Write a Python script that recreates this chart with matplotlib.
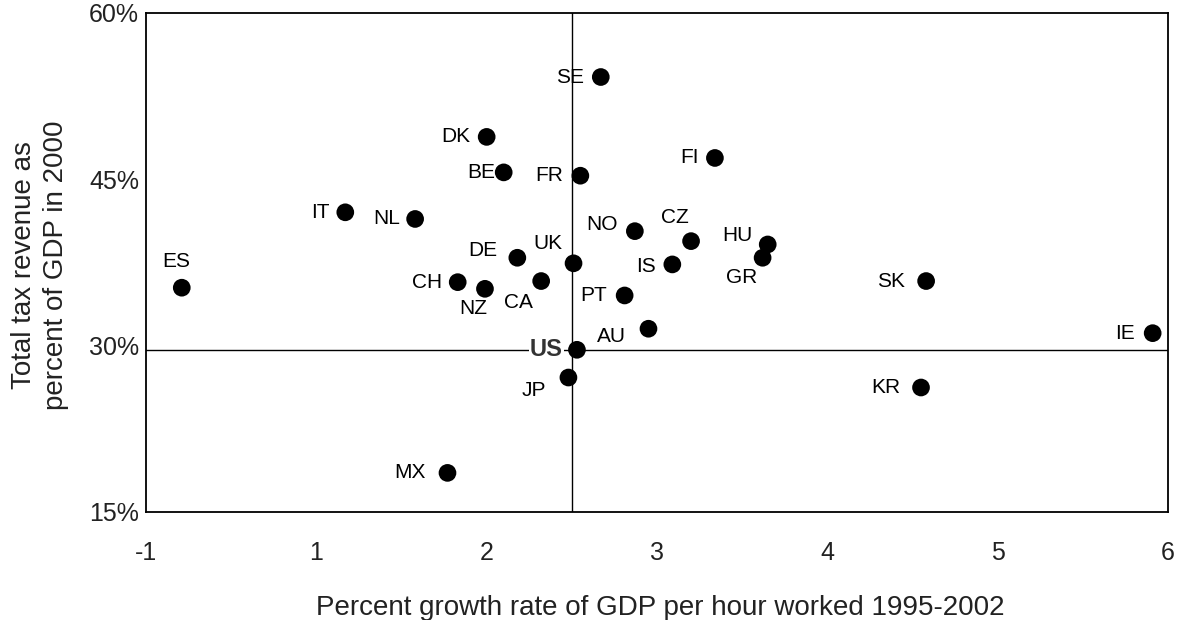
import matplotlib
matplotlib.use("Agg")
import matplotlib.pyplot as plt

plt.rcParams['font.family'] = ['Liberation Sans', 'DejaVu Sans']

# x positions on the chart's axis (tick "-1" sits at 0, then 1..6), y in percent of GDP
countries = ['ES', 'IT', 'NL', 'DK', 'BE', 'FR', 'SE', 'FI', 'DE', 'CH', 'NZ', 'CA', 'UK',
             'NO', 'CZ', 'HU', 'GR', 'IS', 'PT', 'SK', 'AU', 'IE', 'US', 'JP', 'KR', 'MX']
growth = [0.21, 1.17, 1.58, 2.00, 2.10, 2.55, 2.67, 3.34, 2.18, 1.83, 1.99, 2.32, 2.51,
          2.87, 3.20, 3.65, 3.62, 3.09, 2.81, 4.58, 2.95, 5.91, 2.53, 2.48, 4.55, 1.77]
tax_share = [35.2, 42.0, 41.4, 48.8, 45.6, 45.3, 54.2, 46.9, 37.9, 35.7, 35.1, 35.8, 37.4,
             40.3, 39.4, 39.1, 37.9, 37.3, 34.5, 35.8, 31.5, 31.1, 29.6, 27.1, 26.2, 18.5]

xtick_labels = ['-1', '1', '2', '3', '4', '5', '6']
ytick_values = [15, 30, 45, 60]

# label placement in pixels (dx, dy, horizontal alignment), dy positive = up
default_place = (-16, 0, 'right')
place = {
    'ES': (-6, 26, 'center'),
    'NL': (-15, 0, 'right'),
    'BE': (-8, 0, 'right'),
    'FR': (-17, 0, 'right'),
    'SE': (-17, 0, 'right'),
    'DE': (-20, 7, 'right'),
    'UK': (-11, 20, 'right'),
    'NZ': (-12, -20, 'center'),
    'CA': (-8, -21, 'right'),
    'NO': (-17, 7, 'right'),
    'CZ': (-16, 24, 'center'),
    'HU': (-15, 9, 'right'),
    'GR': (-21, -20, 'center'),
    'IS': (-16, -2, 'right'),
    'PT': (-18, 0, 'right'),
    'SK': (-21, 0, 'right'),
    'IE': (-18, 0, 'right'),
    'KR': (-21, 0, 'right'),
    'US': (-14, 0, 'right'),
    'AU': (-23, -8, 'right'),
    'JP': (-22, -13, 'right'),
    'MX': (-22, 0, 'right'),
}

W, H = 1183, 620
fig = plt.figure(figsize=(W / 100, H / 100), dpi=100)
ax = fig.add_axes([146 / W, 1 - 511.7 / H, (1168 - 146) / W, (511.7 - 12.7) / H])

ax.set_xlim(0, 6)
ax.set_ylim(15, 60)

us = countries.index('US')
ax.axvline(2.5, color='black', lw=1.0, zorder=1)
ax.axhline(tax_share[us], color='black', lw=1.0, zorder=1)

ax.scatter(growth, tax_share, s=162, color='black', edgecolors='none', zorder=3)

px = 0.72  # pixels -> points at 100 dpi
for name, x, y in zip(countries, growth, tax_share):
    dx, dy, ha = place.get(name, default_place)
    if name == 'US':
        ax.annotate(name, (x, y), xytext=(dx * px, dy * px), textcoords='offset points',
                    ha=ha, va='center', fontsize=17, fontweight='bold', color='#333333',
                    bbox=dict(boxstyle='square,pad=0.05', fc='white', ec='none'), zorder=2)
    else:
        ax.annotate(name, (x, y), xytext=(dx * px, dy * px), textcoords='offset points',
                    ha=ha, va='center', fontsize=15, color='black', zorder=4)

ax.set_xticks(range(7))
ax.set_xticklabels(xtick_labels)
ax.set_yticks(ytick_values)
ax.set_yticklabels([f'{v}%' for v in ytick_values])
ax.tick_params(axis='both', length=0, labelsize=18, labelcolor='#222222')
ax.tick_params(axis='x', pad=21)
ax.tick_params(axis='y', pad=5)
for s in ax.spines.values():
    s.set_linewidth(1.3)

fig.text(660 / W, 1 - 608 / H, 'Percent growth rate of GDP per hour worked 1995-2002',
         ha='center', va='center', fontsize=20, color='#222222')
fig.text(40 / W, 1 - 265 / H, 'Total tax revenue as\npercent of GDP in 2000',
         ha='center', va='center', rotation=90, fontsize=20, color='#222222',
         multialignment='center', linespacing=1.3)

fig.savefig('out.png', dpi=100)
